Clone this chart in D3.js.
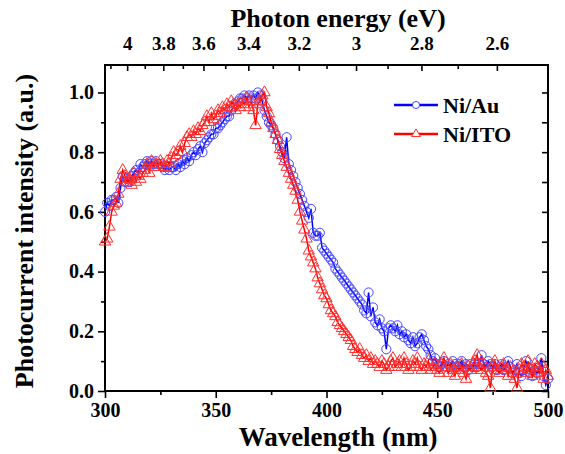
<!DOCTYPE html>
<html><head><meta charset="utf-8">
<script src="https://cdn.jsdelivr.net/npm/d3@7"></script>
<style>
html,body{margin:0;padding:0;background:#fff;}
svg{display:block;}
text{font-family:"Liberation Serif","Times New Roman",serif;font-weight:bold;fill:#000;}
</style></head>
<body>
<svg id="chart" width="565" height="454"></svg>
<script>
// ---- data ----
const wavelength = d3.range(300, 501, 1);
const niAu = [
0.60,0.63,0.62,0.64,0.64,0.65,0.63,0.68,0.72,0.70,
0.71,0.70,0.72,0.73,0.74,0.73,0.76,0.75,0.76,0.77,
0.76,0.77,0.76,0.77,0.76,0.76,0.75,0.74,0.75,0.74,
0.75,0.75,0.74,0.76,0.75,0.77,0.76,0.78,0.77,0.79,
0.80,0.79,0.81,0.82,0.80,0.83,0.84,0.85,0.86,0.86,
0.88,0.88,0.89,0.90,0.91,0.92,0.92,0.94,0.95,0.96,
0.97,0.98,0.98,0.99,0.98,0.99,0.98,0.99,0.98,1.00,
0.99,0.97,0.94,0.92,0.90,0.89,0.88,0.86,0.84,0.82,
0.80,0.78,0.85,0.76,0.74,0.72,0.70,0.68,0.66,0.64,
0.62,0.60,0.58,0.61,0.53,0.52,0.52,0.53,0.48,0.47,
0.46,0.45,0.44,0.43,0.41,0.40,0.39,0.38,0.37,0.36,
0.35,0.34,0.33,0.32,0.31,0.30,0.29,0.27,0.26,0.33,
0.25,0.28,0.23,0.22,0.24,0.21,0.20,0.14,0.21,0.22,
0.21,0.20,0.22,0.19,0.20,0.18,0.19,0.17,0.16,0.18,
0.15,0.16,0.18,0.19,0.17,0.15,0.14,0.12,0.10,0.11,
0.09,0.08,0.09,0.10,0.08,0.09,0.08,0.10,0.09,0.08,
0.09,0.10,0.08,0.09,0.07,0.09,0.08,0.09,0.08,0.09,
0.12,0.09,0.08,0.10,0.09,0.08,0.09,0.07,0.08,0.09,
0.07,0.08,0.10,0.08,0.06,0.07,0.09,0.06,0.05,0.07,
0.10,0.08,0.06,0.05,0.07,0.06,0.08,0.11,0.05,0.02,
0.04];
const niITO = [
0.50,0.51,0.55,0.60,0.62,0.63,0.66,0.71,0.74,0.72,
0.70,0.71,0.69,0.73,0.70,0.72,0.71,0.73,0.74,0.76,
0.73,0.77,0.75,0.76,0.75,0.77,0.76,0.75,0.77,0.76,
0.78,0.80,0.79,0.80,0.82,0.80,0.83,0.85,0.86,0.85,
0.87,0.86,0.88,0.87,0.89,0.90,0.92,0.90,0.93,0.91,
0.92,0.94,0.93,0.95,0.94,0.96,0.95,0.97,0.96,0.94,
0.96,0.95,0.97,0.96,0.98,0.95,0.97,0.94,0.89,0.96,
0.97,0.99,1.00,0.95,0.93,0.90,0.88,0.86,0.84,0.81,
0.79,0.77,0.75,0.73,0.71,0.69,0.67,0.64,0.60,0.57,
0.54,0.51,0.47,0.45,0.43,0.41,0.38,0.36,0.34,0.32,
0.31,0.29,0.27,0.26,0.25,0.23,0.22,0.21,0.20,0.19,
0.18,0.17,0.15,0.14,0.13,0.14,0.12,0.11,0.12,0.10,
0.11,0.09,0.10,0.09,0.08,0.10,0.09,0.07,0.08,0.10,
0.11,0.08,0.09,0.10,0.08,0.11,0.09,0.07,0.08,0.10,
0.09,0.11,0.08,0.07,0.09,0.08,0.10,0.07,0.08,0.09,
0.07,0.06,0.09,0.11,0.08,0.06,0.09,0.07,0.05,0.08,
0.07,0.09,0.06,0.04,0.08,0.07,0.09,0.10,0.12,0.08,
0.07,0.09,0.06,0.05,0.01,0.08,0.10,0.07,0.06,0.08,
0.09,0.07,0.05,0.08,0.06,0.04,0.01,0.07,0.09,0.08,
0.06,0.10,0.07,0.05,0.09,0.08,0.06,0.09,0.04,0.07,
0.05];
const xMajor = [300, 350, 400, 450, 500];
const xMinor = [325, 375, 425, 475];
const yMajor = [0.0, 0.2, 0.4, 0.6, 0.8, 1.0];
const yMinor = [0.1, 0.3, 0.5, 0.7, 0.9];
const eMajor = [4.0, 3.8, 3.6, 3.4, 3.2, 3.0, 2.8, 2.6];
const eMinor = [4.1, 3.9, 3.7, 3.5, 3.3, 3.1, 2.9, 2.7];
const seriesNames = ["Ni/Au", "Ni/ITO"];

// ---- layout ----
const L = 105, R = 548, T = 65, B = 391;
const svg = d3.select("#chart");
const x = d3.scaleLinear().domain([300, 500]).range([L, R]);
const y = d3.scaleLinear().domain([0, 1.092]).range([B, T]);

// bottom axis
svg.append("g").attr("class", "ax").attr("transform", `translate(0,${B})`)
  .call(d3.axisBottom(x).tickValues(xMajor).tickSizeInner(7).tickSizeOuter(0).tickPadding(5).tickFormat(d3.format("d")));
svg.append("g").attr("transform", `translate(0,${B})`)
  .call(d3.axisBottom(x).tickValues(xMinor).tickSizeInner(4).tickSizeOuter(0).tickFormat(""));
// left axis
svg.append("g").attr("class", "ax").attr("transform", `translate(${L},0)`)
  .call(d3.axisLeft(y).tickValues(yMajor).tickSizeInner(7).tickSizeOuter(0).tickPadding(4).tickFormat(d3.format(".1f")));
svg.append("g").attr("transform", `translate(${L},0)`)
  .call(d3.axisLeft(y).tickValues(yMinor).tickSizeInner(4).tickSizeOuter(0).tickFormat(""));
// right axis (inward)
svg.append("g").attr("transform", `translate(${R},0)`)
  .call(d3.axisLeft(y).tickValues(yMajor.concat(yMinor)).tickSizeInner(6).tickSizeOuter(0).tickFormat(""));
// top energy axis (inward ticks)
svg.append("g").attr("class", "ax top").attr("transform", `translate(0,${T})`)
  .call(d3.axisTop(x)
    .tickValues(eMajor.map(e => 1240 / e)).tickSizeInner(-6).tickSizeOuter(0).tickPadding(15)
    .tickFormat(l => d3.format("~g")(Math.round(1240 / l * 10) / 10)));
svg.append("g").attr("transform", `translate(0,${T})`)
  .call(d3.axisTop(x).tickValues(eMinor.map(e => 1240 / e)).tickSizeInner(-4).tickSizeOuter(0).tickFormat(""));

svg.selectAll(".domain").remove();
svg.selectAll(".tick line").attr("stroke", "#000").attr("stroke-width", 1.6);
svg.selectAll(".tick text").style("font-size", "20px")
  .style("font-family", '"Liberation Serif","Times New Roman",serif').style("font-weight", "bold");
svg.selectAll(".top .tick text").style("font-size", "19px");

// frame
svg.append("rect").attr("x", L).attr("y", T).attr("width", R - L).attr("height", B - T)
  .attr("fill", "none").attr("stroke", "#000").attr("stroke-width", 2);

// series
const series = [
  {name: seriesNames[0], vals: niAu, line: "#0000ff", mark: "#4646ff", sym: d3.symbolCircle, size: 66},
  {name: seriesNames[1], vals: niITO, line: "#ff0000", mark: "#ff3030", sym: d3.symbolTriangle, size: 56}
];
const line = d3.line().x(d => x(d[0])).y(d => y(d[1]));
series.forEach(s => {
  const pts = wavelength.map((w, i) => [w, s.vals[i]]);
  const g = svg.append("g");
  g.append("path").datum(pts).attr("d", line).attr("fill", "none")
    .attr("stroke", s.line).attr("stroke-width", 1.5);
  g.selectAll("path.m").data(pts).enter().append("path").attr("class", "m")
    .attr("d", d3.symbol().type(s.sym).size(s.size))
    .attr("transform", d => `translate(${x(d[0])},${y(d[1])})`)
    .attr("fill", "none").attr("stroke", s.mark).attr("stroke-width", 1);
});

// legend
series.forEach((s, i) => {
  const ly = 105 + i * 29;
  svg.append("line").attr("x1", 394).attr("x2", 438).attr("y1", ly).attr("y2", ly)
    .attr("stroke", s.line).attr("stroke-width", 2.5);
  svg.append("path").attr("d", d3.symbol().type(s.sym).size(s.size * 0.6)())
    .attr("transform", `translate(416,${ly})`).attr("fill", "#fff").attr("stroke", s.mark).attr("stroke-width", 1);
  svg.append("text").attr("x", 443).attr("y", ly + 8).style("font-size", "22px").text(s.name);
});

// titles
svg.append("text").attr("x", 338).attr("y", 446).attr("text-anchor", "middle")
  .style("font-size", "27px").text("Wavelength (nm)");
svg.append("text").attr("x", 338).attr("y", 27).attr("text-anchor", "middle")
  .style("font-size", "26px").text("Photon energy (eV)");
svg.append("text").attr("transform", "translate(33,231) rotate(-90)").attr("text-anchor", "middle")
  .style("font-size", "26px").text("Photocurrent intensity (a.u.)");
</script>
</body></html>
